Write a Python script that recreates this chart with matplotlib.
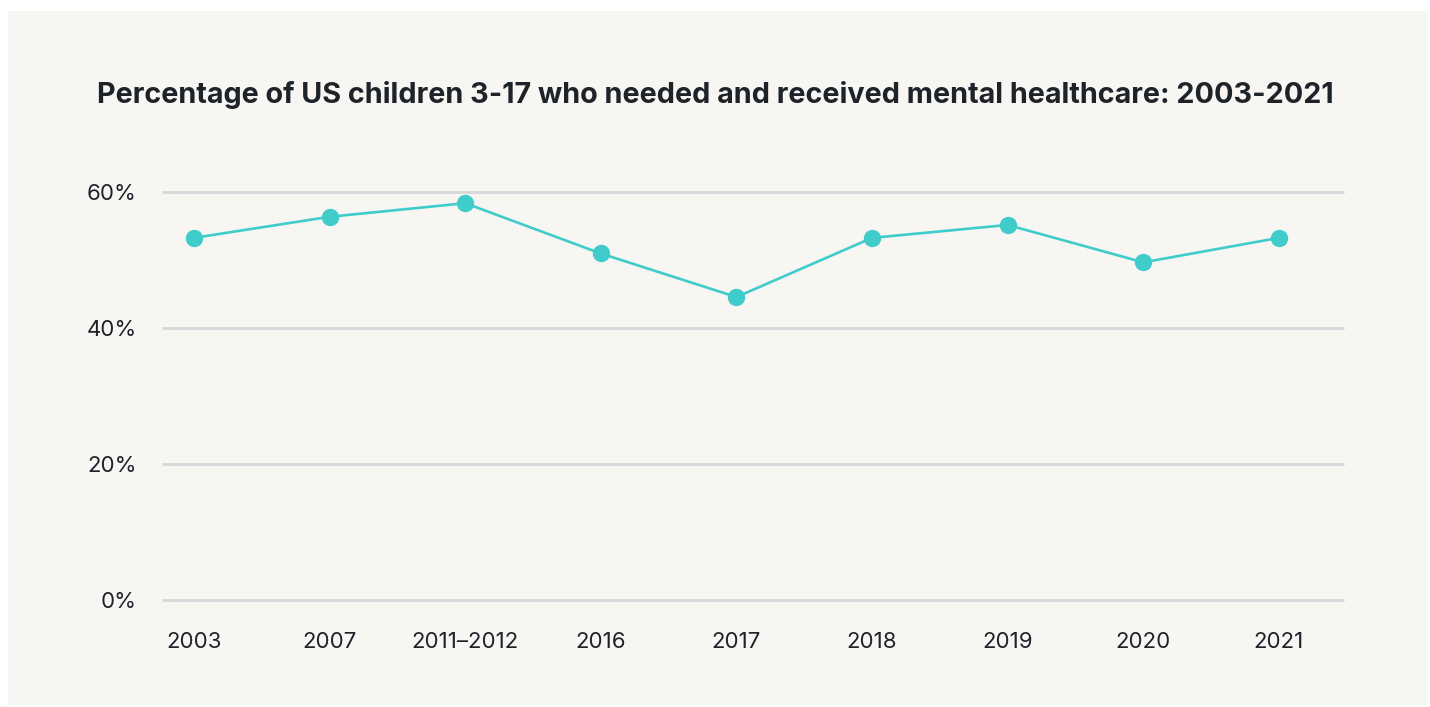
import matplotlib.pyplot as plt
from matplotlib.patches import Rectangle

years = ["2003", "2007", "2011\u20132012", "2016", "2017", "2018", "2019", "2020", "2021"]
pct_received = [53.3, 56.4, 58.4, 51.0, 44.6, 53.3, 55.2, 49.7, 53.3]
y_ticks = [0, 20, 40, 60]

W, H = 1430, 707
fig = plt.figure(figsize=(W / 100, H / 100), dpi=100)
fig.patch.set_facecolor("white")

# light panel behind everything
fig.patches.append(Rectangle((8 / W, 2 / H), (1427 - 8) / W, (705 - 11) / H,
                             transform=fig.transFigure, facecolor="#f7f6f3",
                             edgecolor="none", zorder=-10))

ax = fig.add_axes([162 / W, 1 - 600.3 / H, (1344 - 162) / W, (600.3 - 192.3) / H])
ax.set_facecolor("none")

x = list(range(len(years)))
ax.plot(x, pct_received, color="#40cccb", lw=1.9, marker="o", ms=11.5,
        clip_on=False, zorder=3)

ax.set_xlim(-0.236, 8.48)
ax.set_ylim(0, 60)
ax.set_yticks(y_ticks)
ax.set_yticklabels([f"{t}%" for t in y_ticks])
ax.set_xticks(x)
ax.set_xticklabels(years)
ax.grid(axis="y", color="#d7d7db", lw=2.0)
for gl in ax.get_ygridlines():
    gl.set_clip_on(False)  # keep the 0% and 60% lines full width
    gl.set_solid_capstyle("butt")
ax.set_axisbelow(True)
for s in ax.spines.values():
    s.set_visible(False)
ax.tick_params(axis="both", length=0, labelsize=16, labelcolor="#1e2329")
ax.tick_params(axis="x", pad=23)
ax.tick_params(axis="y", pad=18)
for lab in ax.get_xticklabels() + ax.get_yticklabels():
    lab.set_family("Inter")

fig.text(0.5, 1 - 95 / H, "Percentage of US children 3-17 who needed and received mental healthcare: 2003-2021",
         ha="center", va="center", fontsize=20.7, fontweight="bold",
         family="Inter", color="#1e2329")

fig.savefig("out.png", dpi=100, facecolor=fig.get_facecolor())
